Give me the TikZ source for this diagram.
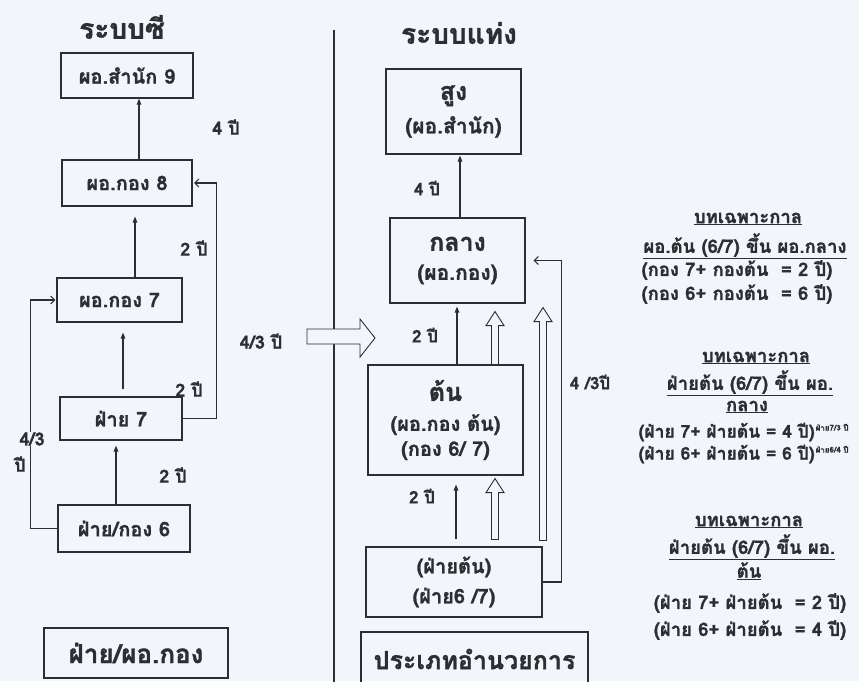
\documentclass[tikz,border=0pt]{standalone}
\usepackage{fontspec}
\setmainfont[Script=Thai,BoldFeatures={FakeBold=1.2}]{Loma}
\usetikzlibrary{arrows.meta,calc}
\definecolor{bgc}{RGB}{242,245,250}
\definecolor{ink}{RGB}{45,45,50}
\newcommand\hollowup[2]{%
  \path #1 coordinate (hb) #2 coordinate (ht);
  \draw[fill=bgc,line width=0.9pt] ($(hb)+(-3.5,0)$) -- ($(ht)+(-3.5,14)$) -- ($(ht)+(-9,14)$) -- (ht) -- ($(ht)+(9,14)$) -- ($(ht)+(3.5,14)$) -- ($(hb)+(3.5,0)$) -- cycle;}
\newcommand\fs[1]{\fontsize{#1}{#1}\selectfont}
\newcommand\supnote[1]{\hspace{1pt}\raisebox{7pt}{\fs{8}#1}}
\begin{document}
\begin{tikzpicture}[x=1pt,y=-1pt,color=ink,line width=1.1pt,
  bx/.style 2 args={draw,inner sep=0pt,minimum width=#1,minimum height=#2,align=center,font=\bfseries\fs{20}},
  ttl/.style={font=\bfseries\fs{28}},
  lbl/.style={font=\bfseries\fs{18}},
  rlbl/.style={font=\bfseries\fs{17}},
  rt/.style={font=\bfseries\fs{18.5}},
  varr/.style={-{Triangle[length=6pt,width=4.5pt]}},
  oarr/.style={-{Straight Barb[length=4pt,width=8pt]}}]
\clip (0,0) rectangle (859,681);
\fill[bgc] (0,0) rectangle (859,681);
% titles
\node[ttl] (tl) at (122,27) {ระบบซี};
\node[ttl] (tr) at (459,33) {ระบบแท่ง};
% left column
\node[bx={132}{45}] (b9) at (127,75.5) {ผอ.สำนัก 9};
\node[bx={130}{46}] (b8) at (127,183) {ผอ.กอง 8};
\node[bx={125}{44}] (b7) at (119.5,300) {ผอ.กอง 7};
\node[bx={122}{43}] (f7) at (121,418.5) {ฝ่าย 7};
\node[bx={132}{47}] (f6) at (124,528.5) {ฝ่าย/กอง 6};
\node[bx={184}{50},font=\bfseries\fs{26}] (bl) at (136,653) {ฝ่าย/ผอ.กอง};
\draw[varr] ([xshift=12pt]b8.north) -- ([xshift=12pt]b9.south);
\draw[varr,shorten >=10pt] ([xshift=15.5pt]b7.north) -- ([xshift=8pt]b8.south);
\draw[varr,shorten <=7pt,shorten >=10pt] ([xshift=2pt]f7.north) -- ([xshift=3.5pt]b7.south);
\draw[varr,shorten >=5pt] ([xshift=-8pt]f6.north) -- ([xshift=-5pt]f7.south);
\draw[oarr,shorten >=1.5pt] (f7.east) -- ++(34,0) |- (b8.east);
\draw[oarr,shorten >=1pt] (f6.west) -- ++(-27,0) |- (b7.west);
\node[lbl] (l1) at (226,127) {4 ปี};
\node[lbl] (l2) at (194,248) {2 ปี};
\node[lbl] (l3) at (189,389) {2 ปี};
\node[lbl] (l4) at (173,475) {2 ปี};
\node[lbl,fill=bgc,inner sep=0pt] (l5) at (32,439) {4/3};
\node[lbl] (l6) at (20,464) {ปี};
% divider and big arrow
\coordinate (dv1) at (334,30);
\coordinate (dv2) at (334,690);
\draw (dv1) -- (dv2);
\node[lbl] (l7) at (261,341) {4/3 ปี};
\draw[fill=bgc,line width=0.9pt] (307,329) -- (360,329) -- (360,319) -- (375,338) -- (360,357) -- (360,344) -- (307,344) -- cycle;
% right column
\node[bx={135}{85}] (s) at (453.5,111.5) {{\fs{25}สูง}\\[9pt]{\fs{21}(ผอ.สำนัก)}};
\node[bx={135}{85}] (k) at (457.5,260.5) {{\fs{25}กลาง}\\[9pt]{\fs{21}(ผอ.กอง)}};
\node[bx={155}{110}] (t) at (445.5,420) {{\fs{25}ต้น}\\[10pt]{\fs{20}(ผอ.กอง ต้น)}\\[5pt]{\fs{20}(กอง 6/ 7)}};
\node[bx={176}{70}] (fd) at (454,582) {(ฝ่ายต้น)\\[10pt](ฝ่าย6 /7)};
\draw (361,700) -- (361,632) coordinate (pr1) -- (588,632) coordinate (pr2) -- (588,700);
\node[font=\bfseries\fs{25}] (pr) at (474.5,659) {ประเภทอำนวยการ};
\draw[varr,shorten >=1pt] ([xshift=2.5pt]k.north) -- ([xshift=6.5pt]s.south);
\draw[varr,shorten >=3pt] ([xshift=11.5pt]t.north) -- ([xshift=-0.5pt]k.south);
\draw[varr,shorten <=7pt,shorten >=9pt] ([xshift=2pt]fd.north) -- ([xshift=10.5pt]t.south);
\draw[oarr] (fd.east) -- ++(19,0) |- ([xshift=8pt]k.east);
\coordinate (hx1) at (495,0);
\coordinate (hx2) at (543,0);
\hollowup{(t.north -| hx1)}{([yshift=-8pt]k.south -| hx1)}
\hollowup{([yshift=7pt]fd.north -| hx1)}{([yshift=-3pt]t.south -| hx1)}
\hollowup{([yshift=6pt]fd.north -| hx2)}{([yshift=-4pt]k.south -| hx2)}
\node[rlbl] (r1) at (427,188) {4 ปี};
\node[rlbl] (r2) at (425,335) {2 ปี};
\node[rlbl] (r3) at (422,496) {2 ปี};
\node[rlbl] (r4) at (590,382) {4 /3ปี};
% right text block
\node[rt] (a1) at (748,219) {\underline{บทเฉพาะกาล}};
\node[rt] (a2) at (745,246) {\underline{ผอ.ต้น (6/7) ขึ้น ผอ.กลาง}};
\node[rt] (a3) at (737,270) {(กอง 7+ กองต้น \ = 2 ปี)};
\node[rt] (a4) at (737,294) {(กอง 6+ กองต้น \ = 6 ปี)};
\node[rt] (c1) at (756,358) {\underline{บทเฉพาะกาล}};
\node[rt] (c2) at (750,383) {\underline{ฝ่ายต้น (6/7) ขึ้น ผอ.}};
\node[rt] (c3) at (747,407) {\underline{กลาง}};
\node[rt,font=\bfseries\fs{17.5},anchor=west,inner sep=0pt] (c4) at (638,432) {(ฝ่าย 7+ ฝ่ายต้น = 4 ปี)\supnote{ฝ่าย7/3 ปี}};
\node[rt,font=\bfseries\fs{17.5},anchor=west,inner sep=0pt] (c5) at (638,454) {(ฝ่าย 6+ ฝ่ายต้น = 6 ปี)\supnote{ฝ่าย6/4 ปี}};
\node[rt] (d1) at (749,522) {\underline{บทเฉพาะกาล}};
\node[rt] (d2) at (752,547) {\underline{ฝ่ายต้น (6/7) ขึ้น ผอ.}};
\node[rt] (d3) at (749,571) {\underline{ต้น}};
\node[rt] (d4) at (750,603) {(ฝ่าย 7+ ฝ่ายต้น \ = 2 ปี)};
\node[rt] (d5) at (750,630) {(ฝ่าย 6+ ฝ่ายต้น \ = 4 ปี)};
\end{tikzpicture}
\end{document}
